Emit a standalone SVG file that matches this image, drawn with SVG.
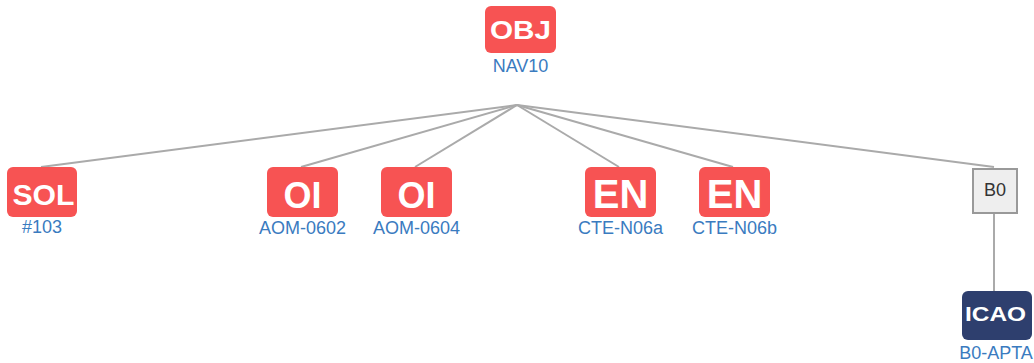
<svg xmlns="http://www.w3.org/2000/svg" width="1034" height="363" viewBox="0 0 1034 363">
<style>
.box{fill:#f75353}
.dark{fill:#2e3f6e}
.t{font-family:"Liberation Sans",Arial,sans-serif;font-weight:bold;fill:#fff;text-anchor:middle}
.l{font-family:"Liberation Sans",Arial,sans-serif;font-size:18px;fill:#3a7bbf;text-anchor:middle}
.c{stroke:#aaa;stroke-width:2;fill:none}
</style>
<rect width="1034" height="363" fill="#fff"/>
<g id="connectors">
<line class="c" x1="517" y1="105" x2="41" y2="167"/>
<line class="c" x1="517" y1="105" x2="301" y2="167"/>
<line class="c" x1="517" y1="105" x2="415" y2="167"/>
<line class="c" x1="517" y1="105" x2="619" y2="167"/>
<line class="c" x1="517" y1="105" x2="733" y2="167"/>
<line class="c" x1="517" y1="105" x2="994" y2="167"/>
<line class="c" x1="994" y1="214" x2="994" y2="291"/>
</g>
<g id="obj">
<rect class="box" x="485" y="6" width="71" height="47" rx="6"/>
<text class="t" x="520.5" y="38.5" style="font-size:25.5px" textLength="61" lengthAdjust="spacingAndGlyphs">OBJ</text>
<text class="l" x="520.5" y="72">NAV10</text>
</g>
<g id="sol">
<rect class="box" x="7" y="167" width="70" height="50" rx="6"/>
<text class="t" x="43.5" y="204.5" style="font-size:30px" textLength="62" lengthAdjust="spacingAndGlyphs">SOL</text>
<text class="l" x="42" y="233">#103</text>
</g>
<g id="oi1">
<rect class="box" x="267" y="167" width="71" height="50" rx="6"/>
<text class="t" x="302.5" y="208" style="font-size:36px">OI</text>
<text class="l" x="302.5" y="234">AOM-0602</text>
</g>
<g id="oi2">
<rect class="box" x="381" y="167" width="71" height="50" rx="6"/>
<text class="t" x="416.5" y="208" style="font-size:36px">OI</text>
<text class="l" x="416.5" y="234">AOM-0604</text>
</g>
<g id="en1">
<rect class="box" x="585" y="167" width="71" height="50" rx="6"/>
<text class="t" x="620.5" y="208" style="font-size:40px">EN</text>
<text class="l" x="620.5" y="234">CTE-N06a</text>
</g>
<g id="en2">
<rect class="box" x="699" y="167" width="71" height="50" rx="6"/>
<text class="t" x="734.5" y="208" style="font-size:40px">EN</text>
<text class="l" x="734.5" y="234">CTE-N06b</text>
</g>
<g id="b0">
<rect x="973" y="169" width="44" height="44" fill="#eee" stroke="#999" stroke-width="2"/>
<text x="995" y="196" font-family="Liberation Sans,Arial,sans-serif" font-size="18" fill="#333" text-anchor="middle">B0</text>
</g>
<g id="icao">
<rect class="dark" x="962" y="291" width="70" height="49" rx="6"/>
<text class="t" x="995.5" y="320.5" style="font-size:21px" textLength="61" lengthAdjust="spacingAndGlyphs">ICAO</text>
<text class="l" x="996" y="359">B0-APTA</text>
</g>
</svg>
